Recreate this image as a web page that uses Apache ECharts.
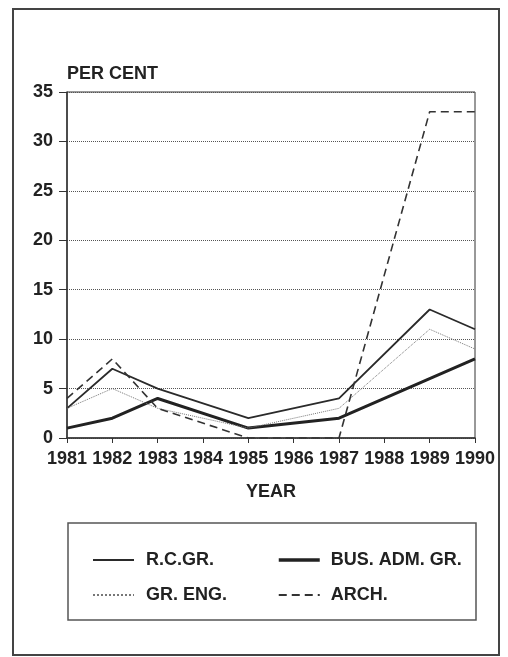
<!DOCTYPE html>
<html>
<head>
<meta charset="utf-8">
<script src="https://cdn.jsdelivr.net/npm/echarts@6/dist/echarts.min.js"></script>
<style>
  html, body { margin: 0; padding: 0; background: #fff; }
  #chart { width: 508px; height: 657px; }
</style>
</head>
<body>
<div id="chart"></div>
<script>
// years on the x axis; gaps (null) are years with no value, lines join across them
const years = ['1981', '1982', '1983', '1984', '1985', '1986', '1987', '1988', '1989', '1990']
const rcGr = [3, 7, 5, null, 2, null, 4, null, 13, 11]
const busAdmGr = [1, 2, 4, null, 1, null, 2, null, 6, 8]
const grEng = [3, 5, 3, null, 1, null, 3, null, 11, 9]
const arch = [4, 8, 3, null, 0, null, 0, null, 33, 33]

const font = 'Liberation Sans, Arial, Helvetica, sans-serif'
const ink = '#222'

const chart = echarts.init(document.getElementById('chart'))

const lineSeries = (name, data, width, type, color) => ({
  name,
  type: 'line',
  data,
  connectNulls: true,
  symbol: 'none',
  animation: false,
  lineStyle: { width, type, color },
  itemStyle: { color }
})

// legend shows only the line sample, no marker dot
const legendBase = {
  orient: 'vertical',
  top: 546,
  itemWidth: 41, itemHeight: 14, itemGap: 17,
  itemStyle: { opacity: 0, borderWidth: 0 }
}

chart.setOption({
  backgroundColor: '#fff',
  textStyle: { fontFamily: font },
  grid: {
    left: 67, top: 92, right: 33, bottom: 219,
    show: true, borderColor: '#333', borderWidth: 1
  },
  legend: [
    Object.assign({}, legendBase, {
      data: ['R.C.GR.', 'GR. ENG.'],
      left: 87,
      textStyle: { fontSize: 18, fontWeight: 'bold', color: ink, fontFamily: font, padding: [0, 0, 0, 7] }
    }),
    Object.assign({}, legendBase, {
      data: [{ name: 'BUS. ADM. GR.', lineStyle: { width: 3.5 } }, 'ARCH.'],
      left: 272,
      textStyle: { fontSize: 18, fontWeight: 'bold', color: ink, fontFamily: font, padding: [0, 0, 0, 6] }
    })
  ],
  xAxis: {
    type: 'category',
    data: years,
    boundaryGap: false,
    name: 'YEAR',
    nameLocation: 'middle',
    nameGap: 45,
    nameTextStyle: { fontSize: 18, fontWeight: 'bold', color: ink },
    axisLine: { lineStyle: { color: '#333', width: 1.5 } },
    axisTick: { alignWithLabel: true, length: 5, lineStyle: { color: '#333' } },
    axisLabel: { fontSize: 18, fontWeight: 'bold', color: ink, margin: 12, interval: 0 },
    splitLine: { show: false }
  },
  yAxis: {
    type: 'value',
    min: 0, max: 35, interval: 5,
    name: 'PER CENT',
    nameLocation: 'end',
    nameGap: 9,
    nameTextStyle: { fontSize: 18, fontWeight: 'bold', color: ink, align: 'left' },
    axisLine: { show: true, lineStyle: { color: '#333', width: 1.5 } },
    axisTick: { show: true, length: 8, lineStyle: { color: '#333' } },
    axisLabel: { fontSize: 18, fontWeight: 'bold', color: ink, margin: 14 },
    splitLine: { lineStyle: { type: 'dotted', color: '#555', width: 1 } }
  },
  series: [
    lineSeries('R.C.GR.', rcGr, 1.8, 'solid', '#2a2a2a'),
    lineSeries('BUS. ADM. GR.', busAdmGr, 3, 'solid', '#222'),
    lineSeries('GR. ENG.', grEng, 1, 'dotted', '#777'),
    lineSeries('ARCH.', arch, 1.6, [8, 5], '#333')
  ],
  graphic: [
    {
      type: 'rect', silent: true,
      shape: { x: 13, y: 9, width: 486, height: 646 },
      style: { fill: null, stroke: '#444', lineWidth: 2 }
    },
    {
      type: 'rect', silent: true,
      shape: { x: 68, y: 523, width: 408, height: 97 },
      style: { fill: null, stroke: '#555', lineWidth: 1.5 }
    }
  ]
})
</script>
</body>
</html>
